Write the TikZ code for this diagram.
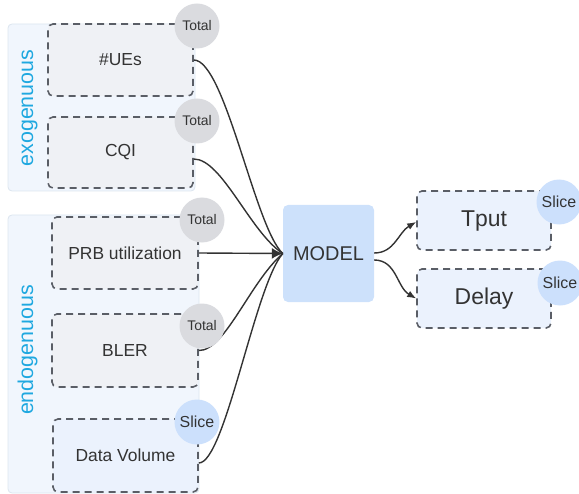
\documentclass[tikz,border=0pt]{standalone}
\usepackage{fontspec}
\setmainfont{Liberation Sans}
\usetikzlibrary{arrows.meta,calc}
\definecolor{groupbg}{HTML}{F1F6FD}
\definecolor{groupline}{HTML}{DCE5EF}
\definecolor{boxgrey}{HTML}{EFF1F5}
\definecolor{boxblue}{HTML}{EBF2FD}
\definecolor{circgrey}{HTML}{DADBDF}
\definecolor{circblue}{HTML}{CCE0FC}
\definecolor{modelblue}{HTML}{CDE1FB}
\definecolor{dashc}{HTML}{5A5E66}
\definecolor{txt}{HTML}{333333}
\definecolor{labc}{HTML}{1FA8E0}
\begin{document}
\begin{tikzpicture}[x=1bp,y=-1bp,
  group/.style={draw=groupline, line width=0.8bp, fill=groupbg, rounded corners=4bp},
  box/.style={draw=dashc, dash pattern=on 7bp off 5bp, line width=1.6bp, rounded corners=5bp,
    fill=boxgrey, text=txt, inner sep=0pt, font=\fontsize{17.5}{20}\selectfont},
  inbox/.style={box, minimum width=145bp, minimum height=72bp},
  outbox/.style={box, fill=boxblue, minimum width=134bp, minimum height=59bp, font=\fontsize{23}{27}\selectfont},
  circ/.style={circle, fill=circgrey, minimum size=45bp, inner sep=0pt, text=txt, font=\fontsize{14}{16}\selectfont},
  scirc/.style={circ, fill=circblue, font=\fontsize{16}{18}\selectfont},
  conn/.style={draw=txt, line width=1.4bp},
  arr/.style={conn, -{Latex[length=9bp,width=7bp]}},
  grplabel/.style={rotate=90, anchor=base, text=labc, font=\fontsize{21.5}{24}\selectfont}
]
\useasboundingbox (0,0) rectangle (579,494);

% groups
\path[group] (8,24) rectangle (195,191);
\path[group] (8,215) rectangle (199,493);
\node[grplabel] (exo) at (33,108) {exogenuous};
\node[grplabel] (endo) at (33,350) {endogenuous};

% input boxes
\node[inbox] (ues) at (120.5,60) {\#UEs};
\node[inbox, minimum height=71bp] (cqi) at (120.5,152.5) {CQI};
\node[inbox, minimum width=146bp] (prb) at (125,253) {PRB utilization};
\node[inbox, minimum width=146bp, minimum height=73bp] (bler) at (125,350.5) {BLER};
\node[inbox, fill=boxblue, minimum height=73bp] (dv) at (125.5,455.5) {Data Volume};

% model
\node[fill=modelblue, rounded corners=5bp, minimum width=91bp, minimum height=97bp, inner sep=0pt,
  text=txt, font=\fontsize{20}{24}\selectfont] (model) at (328.5,253.5) {MODEL};

% outputs
\node[outbox] (tput) at (484,220.5) {\raisebox{3bp}{Tput}};
\node[outbox] (delay) at (484,298.5) {Delay};

% connectors
\draw[conn] (ues.east) .. controls (225,60) and (255,228) .. (model.west);
\draw[conn] ([yshift=-6.5bp]cqi.east) .. controls (222,159) and (250,232) .. (model.west);
\draw[conn] (bler.east) .. controls (225,351) and (250,282) .. (model.west);
\draw[conn] ([yshift=-7.5bp]dv.east) .. controls (225,463) and (255,285) .. (model.west);
\draw[conn, -{Latex[length=11bp,width=11bp]}] (prb.east) -- (model.west);

\draw[arr] ([yshift=0.5bp]model.east) to[out=0,in=210] ([yshift=-1.5bp]tput.west);
\draw[arr] ([yshift=-6.5bp]model.east) to[out=0,in=150] ([yshift=0bp]delay.west);

% badges
\node[circ] (c1) at (197,26) {Total};
\node[circ] (c2) at (197,121) {Total};
\node[circ] (c3) at (202,220) {Total};
\node[circ] (c4) at (202,326) {Total};
\node[scirc] (c5) at (197,422) {Slice};
\node[scirc] (c6) at (559,202) {Slice};
\node[scirc] (c7) at (560,283) {Slice};
\end{tikzpicture}
\end{document}
